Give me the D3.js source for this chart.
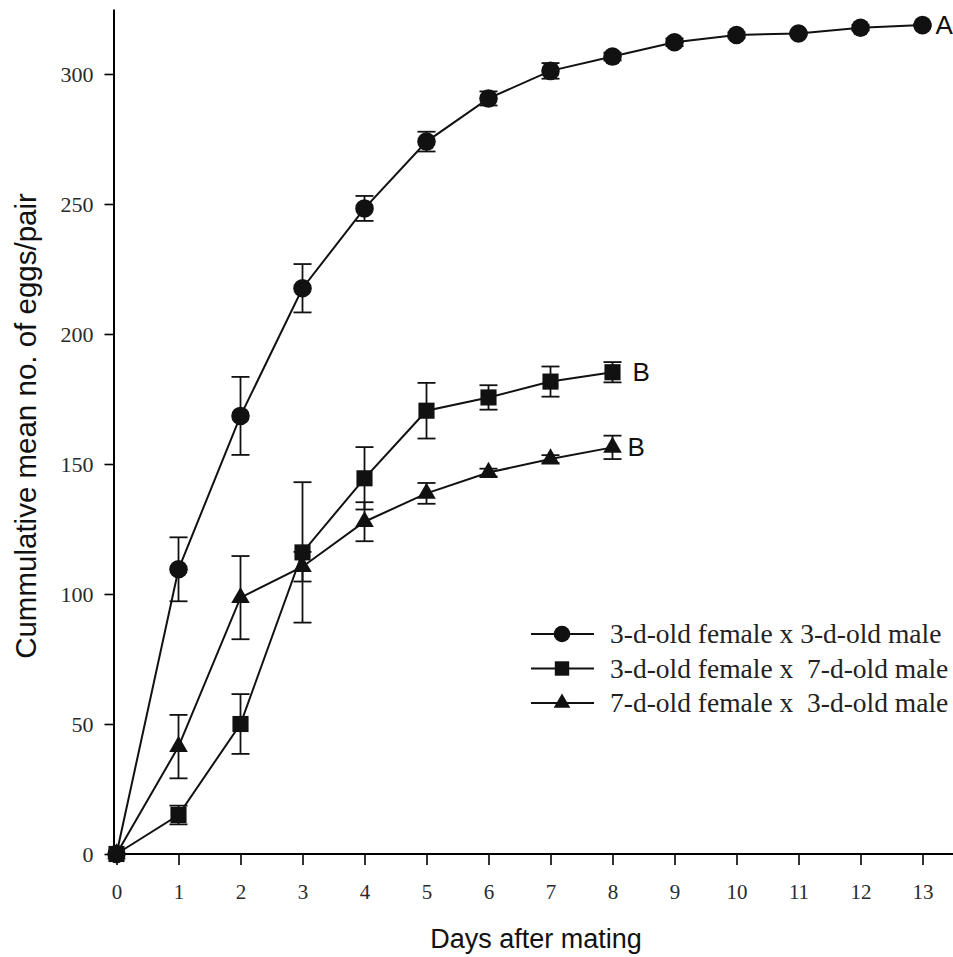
<!DOCTYPE html>
<html>
<head>
<meta charset="utf-8">
<script src="https://cdn.jsdelivr.net/npm/d3@7"></script>
<style>
  body { margin: 0; background: #fff; }
  svg { display: block; }
</style>
</head>
<body>
<div id="line-chart"></div>
<script>
// Days after mating
const days = [0, 1, 2, 3, 4, 5, 6, 7, 8, 9, 10, 11, 12, 13];

// Series names (legend text) and the letter printed at the end of each line
const seriesNames = [
  "3-d-old female x 3-d-old male",
  "3-d-old female x  7-d-old male",
  "7-d-old female x  3-d-old male"
];
const groupLetters = ["A", "B", "B"];

// Cumulative mean eggs per pair, with error (+/-)
const meanCircle = [0, 109.5, 168.5, 217.6, 248.3, 274, 290.6, 301.2, 306.7, 312.2, 315, 315.6, 317.8, 318.8];
const errCircle  = [0, 12.3, 15, 9.3, 4.8, 3.8, 2.7, 3, 1.5, 1.5, 1, 0.5, 1, 0.5];

const meanSquare = [0, 15, 50, 116, 144.5, 170.5, 175.6, 181.7, 185.3];
const errSquare  = [0, 3.6, 11.5, 27, 12, 10.7, 4.7, 5.8, 3.9];

const meanTriangle = [0, 41.3, 98.6, 110.5, 127.8, 138.7, 146.7, 151.9, 156.4];
const errTriangle  = [0, 12.2, 16, 5.7, 7.5, 4, 1.5, 1.5, 4.5];

// Axis ticks
const xTicks = [0, 1, 2, 3, 4, 5, 6, 7, 8, 9, 10, 11, 12, 13];
const yTicks = [0, 50, 100, 150, 200, 250, 300];

const chart = { width: 953, height: 957 };

const svg = d3.select("#line-chart")
  .append("svg")
  .attr("width", chart.width)
  .attr("height", chart.height);

// Scales
const x = d3.scaleLinear().domain([0, 13.5]).range([116.5, 953.5]);
const y = d3.scaleLinear().domain([0, 325]).range([854, 9]);

const serif = "'Liberation Serif', 'Times New Roman', serif";
const sans = "'Liberation Sans', Arial, sans-serif";

// X axis
const xAxis = svg.append("g")
  .attr("transform", "translate(0," + y(0) + ")")
  .call(d3.axisBottom(x).tickValues(xTicks).tickSize(11).tickSizeOuter(0).tickPadding(19));
xAxis.select(".domain").attr("stroke-width", 2).attr("d", "M" + (x(0) - 3) + ",0H" + chart.width);
xAxis.selectAll(".tick line").attr("stroke-width", 1.6);
xAxis.selectAll("text")
  .attr("font-family", serif)
  .attr("font-size", "21px")
  .attr("fill", "#2a2a2a");

// Y axis
const yAxis = svg.append("g")
  .attr("transform", "translate(" + (x(0) - 3) + ",0)")
  .call(d3.axisLeft(y).tickValues(yTicks).tickSize(9).tickSizeOuter(0).tickPadding(11));
yAxis.select(".domain").attr("stroke-width", 2);
yAxis.selectAll(".tick line").attr("stroke-width", 1.6);
yAxis.selectAll("text")
  .attr("font-family", serif)
  .attr("font-size", "22px")
  .attr("fill", "#2a2a2a");

// Axis labels
svg.append("text")
  .attr("x", 536)
  .attr("y", 948)
  .attr("text-anchor", "middle")
  .attr("font-family", sans)
  .attr("font-size", "27px")
  .attr("fill", "#111")
  .text("Days after mating");

svg.append("text")
  .attr("transform", "translate(36,426) rotate(-90)")
  .attr("text-anchor", "middle")
  .attr("font-family", sans)
  .attr("font-size", "29.5px")
  .attr("fill", "#111")
  .text("Cummulative mean no. of eggs/pair");

// Build series from the arrays
const series = [
  { name: seriesNames[0], letter: groupLetters[0], symbol: d3.symbolCircle, size: 270, gap: 13, mean: meanCircle, err: errCircle },
  { name: seriesNames[1], letter: groupLetters[1], symbol: d3.symbolSquare, size: 260, gap: 20, mean: meanSquare, err: errSquare },
  { name: seriesNames[2], letter: groupLetters[2], symbol: d3.symbolTriangle, size: 150, gap: 15, mean: meanTriangle, err: errTriangle }
].map(s => ({
  ...s,
  points: s.mean.map((m, i) => ({ day: days[i], mean: m, err: s.err[i] }))
}));

const line = d3.line().x(d => x(d.day)).y(d => y(d.mean));

// Lines
svg.selectAll(".series-line")
  .data(series)
  .enter()
  .append("path")
  .attr("class", "series-line")
  .attr("d", d => line(d.points))
  .attr("fill", "none")
  .attr("stroke", "#111")
  .attr("stroke-width", 2);

// Error bars
const capHalf = 9;
series.forEach(s => {
  const eb = svg.append("g").attr("stroke", "#111").attr("stroke-width", 1.8);
  const pts = s.points.filter(d => d.err > 0);
  eb.selectAll(".stem").data(pts).enter().append("line")
    .attr("x1", d => x(d.day)).attr("x2", d => x(d.day))
    .attr("y1", d => y(d.mean + d.err)).attr("y2", d => y(d.mean - d.err));
  eb.selectAll(".cap-top").data(pts).enter().append("line")
    .attr("x1", d => x(d.day) - capHalf).attr("x2", d => x(d.day) + capHalf)
    .attr("y1", d => y(d.mean + d.err)).attr("y2", d => y(d.mean + d.err));
  eb.selectAll(".cap-bottom").data(pts).enter().append("line")
    .attr("x1", d => x(d.day) - capHalf).attr("x2", d => x(d.day) + capHalf)
    .attr("y1", d => y(d.mean - d.err)).attr("y2", d => y(d.mean - d.err));
});

// Markers (circle first so the square sits on top at the origin)
[series[0], series[2], series[1]].forEach(s => {
  svg.append("g").selectAll("path")
    .data(s.points)
    .enter()
    .append("path")
    .attr("transform", d => "translate(" + x(d.day) + "," + y(d.mean) + ")")
    .attr("d", d3.symbol().type(s.symbol).size(s.size))
    .attr("fill", "#111");
});

// Group letters at the end of each line
series.forEach(s => {
  const last = s.points[s.points.length - 1];
  svg.append("text")
    .attr("x", x(last.day) + s.gap)
    .attr("y", y(last.mean) + 9)
    .attr("font-family", sans)
    .attr("font-size", "26px")
    .attr("fill", "#111")
    .text(s.letter);
});

// Legend
const legend = svg.append("g").attr("transform", "translate(531,634)");
series.forEach((s, i) => {
  const row = legend.append("g").attr("transform", "translate(0," + i * 34.5 + ")");
  row.append("line")
    .attr("x1", 0).attr("x2", 63)
    .attr("stroke", "#111").attr("stroke-width", 2);
  row.append("path")
    .attr("transform", "translate(31,0)")
    .attr("d", d3.symbol().type(s.symbol).size(s.size * 0.8))
    .attr("fill", "#111");
  row.append("text")
    .attr("x", 79)
    .attr("y", 9)
    .attr("font-family", serif)
    .attr("font-size", "27.5px")
    .attr("fill", "#222")
    .style("white-space", "pre")
    .text(s.name);
});
</script>
</body>
</html>
